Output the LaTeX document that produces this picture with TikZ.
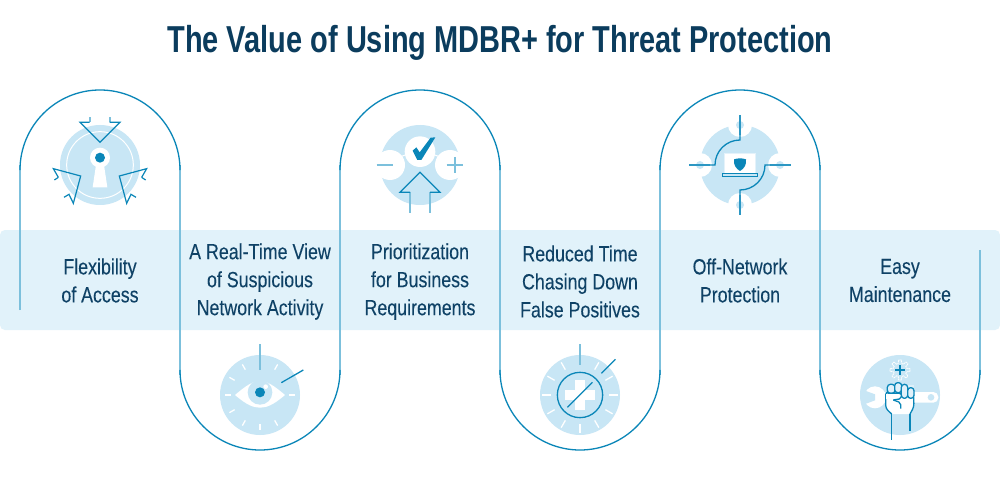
\documentclass[tikz,border=0pt]{standalone}
\usepackage{fontspec}
\setmainfont{Liberation Sans}[FakeStretch=0.81,FakeBold=0.12]
\newfontfamily\titlefont{Liberation Sans Bold}[FakeStretch=0.772]
\definecolor{navy}{HTML}{0B3C5D}
\definecolor{inktext}{HTML}{0F4266}
\definecolor{bandc}{HTML}{E1F2FA}
\definecolor{disc}{HTML}{C8E6F5}
\definecolor{lightl}{HTML}{7CC0DC}
\definecolor{darkl}{HTML}{0A86B8}
\tikzset{
  label text/.style={text=inktext,align=center,font=\fontsize{22}{28}\selectfont,inner sep=0pt},
  ribarc/.style={draw=darkl,line width=1.3pt},
  ribline/.style={draw=lightl,line width=2pt},
  dk/.style={draw=darkl,line width=1.2pt,line join=miter},
  lt/.style={draw=lightl,line width=2pt},
  tick/.style={draw=white,line width=1.3pt},
  fist/.style={draw=darkl,line width=1.3pt},
  icon/.style={x=0.33333pt,y=-0.33333pt}
}
\begin{document}
\begin{tikzpicture}[x=1pt,y=-1pt]
\useasboundingbox (0,0) rectangle (1000,500);
\fill[white] (0,0) rectangle (1000,500);
\fill[bandc,rounded corners=5pt] (0,230) rectangle (1000,330);
\node[text=navy,inner sep=0pt,font=\fontsize{37.5}{40}\titlefont] (title) at (500,42.5) {The Value of Using MDBR+ for Threat Protection};
% ribbon
\draw[ribline] (20,310) -- (20,165);
\foreach \x in {180,340,500,660,820}{\draw[ribline] (\x,165) -- (\x,375);}
\draw[ribline] (980,250) -- (980,375);
\foreach \x in {100,420,740}{\draw[ribarc] (\x-80,168) -- (\x-80,170) arc[start angle=180,end angle=360,radius=80] -- (\x+80,168);}
\foreach \x in {260,580,900}{\draw[ribarc] (\x-80,372) -- (\x-80,370) arc[start angle=180,end angle=0,radius=80] -- (\x+80,372);}
% labels
\node[label text] (l1) at (100,280.5) {Flexibility\\of Access};
\node[label text] (l2) at (260,281.5) {A Real-Time View\\of Suspicious\\Network Activity};
\node[label text] (l3) at (420,281.5) {Prioritization\\for Business\\Requirements};
\node[label text] (l4) at (580,281.5) {Reduced Time\\Chasing Down\\False Positives};
\node[label text] (l5) at (740,280.5) {Off-Network\\Protection};
\node[label text] (l6) at (900,280.5) {Easy\\Maintenance};
% icon 1 keyhole
\begin{scope}[shift={(20,90)},icon]
\fill[disc] (240,225) circle[radius=120];
\draw[white,line width=1pt] (240,225) circle[radius=100];
\fill[white] (240,203) circle[radius=30];
\fill[white] (228,225) -- (252,225) -- (262,292) -- (218,292) -- cycle;
\fill[darkl] (240,203) circle[radius=15];
\draw[lt] (209,82) -- (209,97);
\draw[lt] (269,82) -- (269,97);
\draw[dk] (209,97) -- (180,97) -- (240,157) -- (300,97) -- (269,97);
\draw[dk] (115,262) -- (100,236) -- (182,258) -- (160,340) -- (147,313) -- (132,322);
\draw[dk] (115,262) -- (103,270);
\draw[dk] (365,262) -- (380,236) -- (298,258) -- (320,340) -- (333,313) -- (348,322);
\draw[dk] (365,262) -- (377,270);
\end{scope}
% icon 3 check
\begin{scope}[shift={(340,100)},icon]
\fill[disc] (240,195) circle[radius=120];
\fill[white] (150,195) circle[radius=45];
\fill[white] (330,195) circle[radius=45];
\fill[white] (240,155) circle[radius=46];
\draw[white,line width=1pt] (176,172) -- (196,165);
\draw[white,line width=1pt] (284,165) -- (304,172);
\fill[darkl] (218,152) -- (229,142) -- (239,157) -- (272,113) -- (286,112) -- (244,180) -- (232,180) -- cycle;
\draw[lt] (110,195) -- (160,195);
\draw[lt] (320,195) -- (370,195);
\draw[lt] (345,171) -- (345,220);
\draw[lt] (210,277) -- (210,338);
\draw[lt] (270,277) -- (270,338);
\draw[dk] (210,277) -- (180,277) -- (240,217) -- (300,277) -- (270,277);
\end{scope}
% icon 5 laptop
\begin{scope}[shift={(660,100)},icon]
\fill[disc] (240,195) circle[radius=120];
\foreach \a/\b in {240/75,240/315,120/195,360/195}{
  \fill[white] (\a,\b) circle[radius=36];
  \fill[disc] (\a,\b) circle[radius=12];
}
\draw[draw=darkl!70!lightl,line width=1.8pt] (240,45) -- (240,105);
\draw[draw=darkl!70!lightl,line width=1.8pt] (240,345) -- (240,285);
\draw[draw=darkl!70!lightl,line width=1.8pt] (88,195) -- (150,195);
\draw[draw=darkl!70!lightl,line width=1.8pt] (392,195) -- (330,195);
\draw[draw=darkl,line width=1.3pt] (240,105) -- (240,120) arc[start angle=270,end angle=180,radius=75] -- (150,195);
\draw[draw=darkl,line width=1.3pt] (240,285) -- (240,270) arc[start angle=90,end angle=0,radius=75] -- (330,195);
\fill[white,draw=disc!50!white,line width=1pt] (193,160) rectangle (286,220);
\fill[disc,draw=darkl,line width=1pt] (187,220) rectangle (293,230);
\fill[darkl] (222,178) .. controls (234,174) and (246,174) .. (258,178) .. controls (260,195) and (252,206) .. (240,213) .. controls (228,206) and (220,195) .. (222,178) -- cycle;
\end{scope}
% icon 2 eye
\begin{scope}[shift={(190,330)},icon]
\fill[disc] (210,195) circle[radius=120];
\foreach \t in {0,60,120,150,180,210,240,300,330}{
  \draw[tick] ({210+88*cos(\t)},{195+88*sin(\t)}) -- ({210+106*cos(\t)},{195+106*sin(\t)});
}
\draw[tick] (210,283) -- (210,301);
\fill[white] (135,195) .. controls (170,165) and (190,153) .. (210,153) .. controls (230,153) and (250,165) .. (285,195) .. controls (250,225) and (230,233) .. (210,233) .. controls (190,233) and (170,225) .. (135,195) -- cycle;
\fill[disc] (210,187) circle[radius=37];
\fill[darkl] (210,187) circle[radius=15];
\fill[white] (227,170) circle[radius=7];
\draw[lt] (210,43) -- (210,120);
\draw[dk,line width=1.3pt] (274,158) -- (340,120);
\end{scope}
% icon 4 plus
\begin{scope}[shift={(510,330)},icon]
\fill[disc] (210,195) circle[radius=120];
\foreach \t in {0,30,60,90,120,150,180,210,240,300,330}{
  \draw[tick] ({210+88*cos(\t)},{195+88*sin(\t)}) -- ({210+113*cos(\t)},{195+113*sin(\t)});
}
\fill[white] (195,150) rectangle (225,240);
\fill[white] (165,180) rectangle (255,210);
\draw[dk,line width=1.3pt] (210,195) circle[radius=68];
\draw[dk] (172,232) -- (247,157);
\draw[dk,line width=1.3pt] (274,130) -- (316,88);
\draw[lt] (210,43) -- (210,105);
\end{scope}
% icon 6 wrench
\begin{scope}[shift={(830,340)},icon]
\fill[disc] (210,165) circle[radius=120];
\draw[white,line width=0.8pt,dash pattern=on 2pt off 0.6pt] plot[variable=\v,domain=0:360,samples=97] ({210+(25+5*sign(cos(8*\v)))*cos(\v)},{90+(25+5*sign(cos(8*\v)))*sin(\v)}) -- cycle;
\draw[darkl,line width=1.6pt] (195,90) -- (225,90);
\draw[darkl,line width=1.6pt] (210,75) -- (210,105);
\fill[white] (135,172) circle[radius=33];
\fill[white,rounded corners=5pt] (140,156) rectangle (325,188);
\fill[disc] (100,150) -- (135,163) -- (135,181) -- (100,194) -- cycle;
\fill[disc] (303,172) circle[radius=10];
\draw[fist,fill=white,rounded corners=3pt] (185,222) -- (167,205) -- (167,155) -- (250,155) -- (252,200) -- (240,222);
\fill[disc!60!white] (172,136) rectangle (252,157);
\foreach \a/\b/\c/\d in {172/133/195/160,194/128/215/158,214/133/233/175,233/143/252/175}{
  \draw[fist,fill=disc!55!white,rounded corners=3pt] (\a,\b) rectangle (\c,\d);
}
\fill[white] (169,161) rectangle (213,178);
\draw[fist,rounded corners=2pt] (172,160) -- (214,160) -- (214,176) -- (190,180);
\draw[fist,rounded corners=2pt] (190,180) -- (212,188) -- (212,206);
\draw[fist] (185,222) -- (185,300);
\draw[fist] (240,222) -- (240,272);
\end{scope}
\end{tikzpicture}
\end{document}
